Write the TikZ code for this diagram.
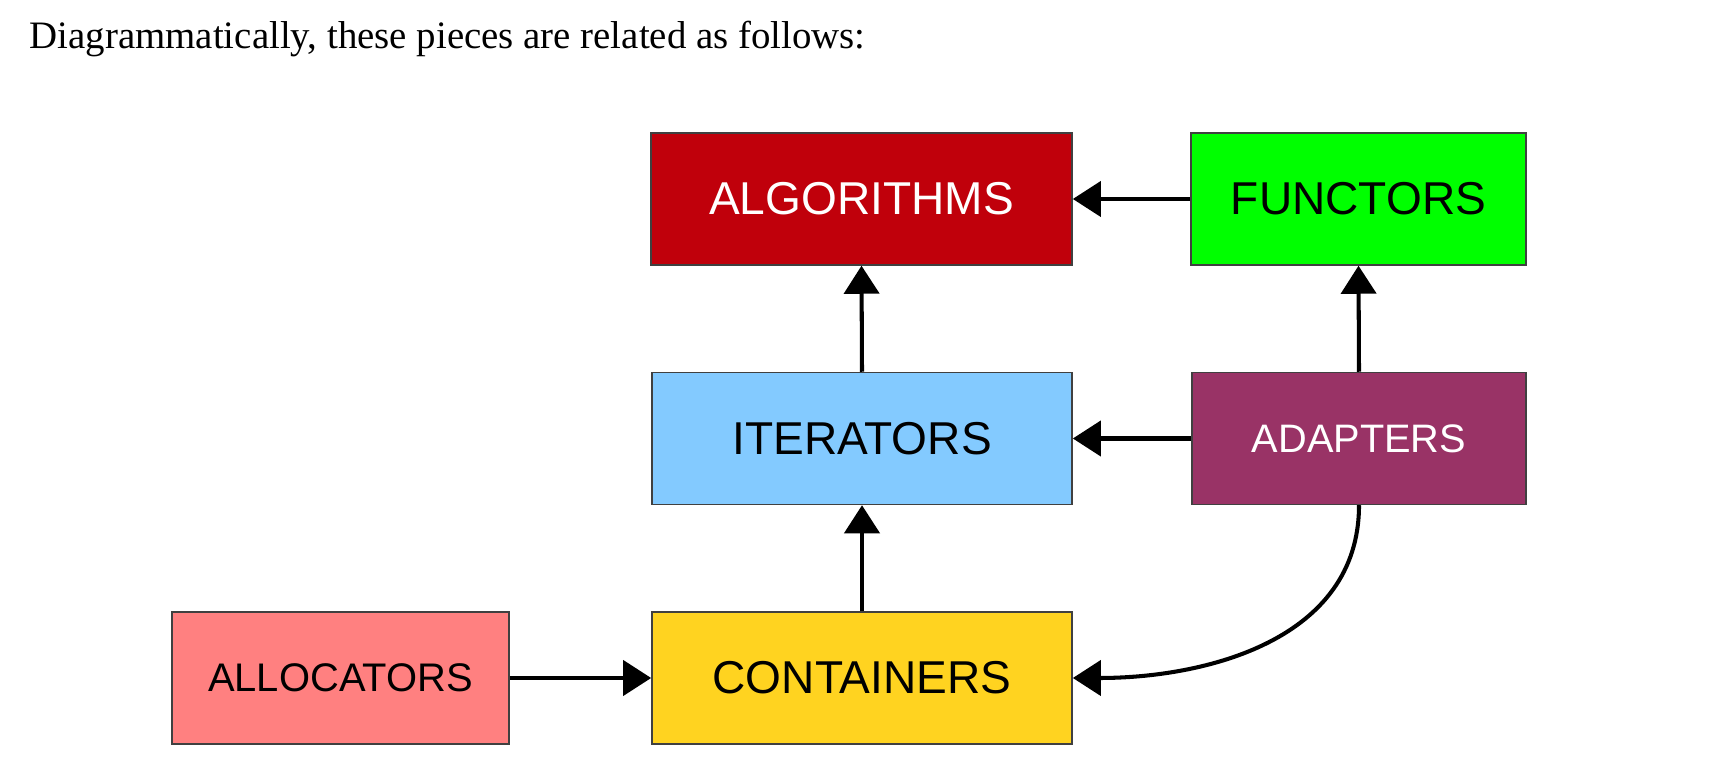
\documentclass[tikz,border=0pt]{standalone}
\usepackage{fontspec}
\setmainfont{Liberation Serif}
\newfontfamily\boxfont{Liberation Sans}
\usepackage{tikz}
\usetikzlibrary{arrows.meta}
\definecolor{algred}{RGB}{192,0,11}
\definecolor{funcgreen}{RGB}{0,255,0}
\definecolor{iterblue}{RGB}{131,202,255}
\definecolor{adaptpurple}{RGB}{153,51,102}
\definecolor{allocpink}{RGB}{255,128,128}
\definecolor{contyellow}{RGB}{255,211,32}
\tikzset{my arrow/.style={
  black,
  line width=1.15pt,
  -{Triangle[width=0.35cm,length=0.28cm]}
  }
}
\tikzset{piece/.style={
  draw=black!75,
  line width=0.4pt,
  inner sep=0pt,
  minimum height=1.32cm,
  font=\boxfont
  }
}

\begin{document}
\begin{tikzpicture}[x=0.01cm,y=-0.01cm]
    \useasboundingbox (0,0) rectangle (1715,780);
    \node[anchor=base west,inner sep=0pt,font=\fontsize{11.05}{13}\selectfont] (T) at (29,49) {Diagrammatically, these pieces are related as follows:};

    \foreach \nm/\x/\y/\w/\c/\tc/\fs/\t in {ALG/861.5/199/4.21/algred/white/13.1/ALGORITHMS,FUN/1358.5/199/3.35/funcgreen/black/13.1/FUNCTORS,ITE/862/438.5/4.20/iterblue/black/13.1/ITERATORS,ADA/1359/438.5/3.34/adaptpurple/white/11.3/ADAPTERS,ALL/340.5/678/3.37/allocpink/black/11.35/ALLOCATORS,CON/862/678/4.20/contyellow/black/13.1/CONTAINERS}
        \node[piece,fill=\c,text=\tc,minimum width=\w cm](\nm) at (\x,\y) {\fontsize{\fs}{\fs}\selectfont\t};

    \draw[my arrow]  (FUN.west) -- (ALG.east);
    \draw[my arrow]  (ITE.north) -- (ALG.south);
    \draw[my arrow]  (ADA.north) -- (FUN.south);
    \draw[my arrow]  (ADA.west) -- (ITE.east);
    \draw[my arrow]  (CON.north) -- (ITE.south);
    \draw[my arrow]  (ALL.east) -- (CON.west);
    \draw[my arrow]  (ADA.south) .. controls +(0,136) and +(130,0) .. (CON.east);

    \end{tikzpicture}
\end{document}
